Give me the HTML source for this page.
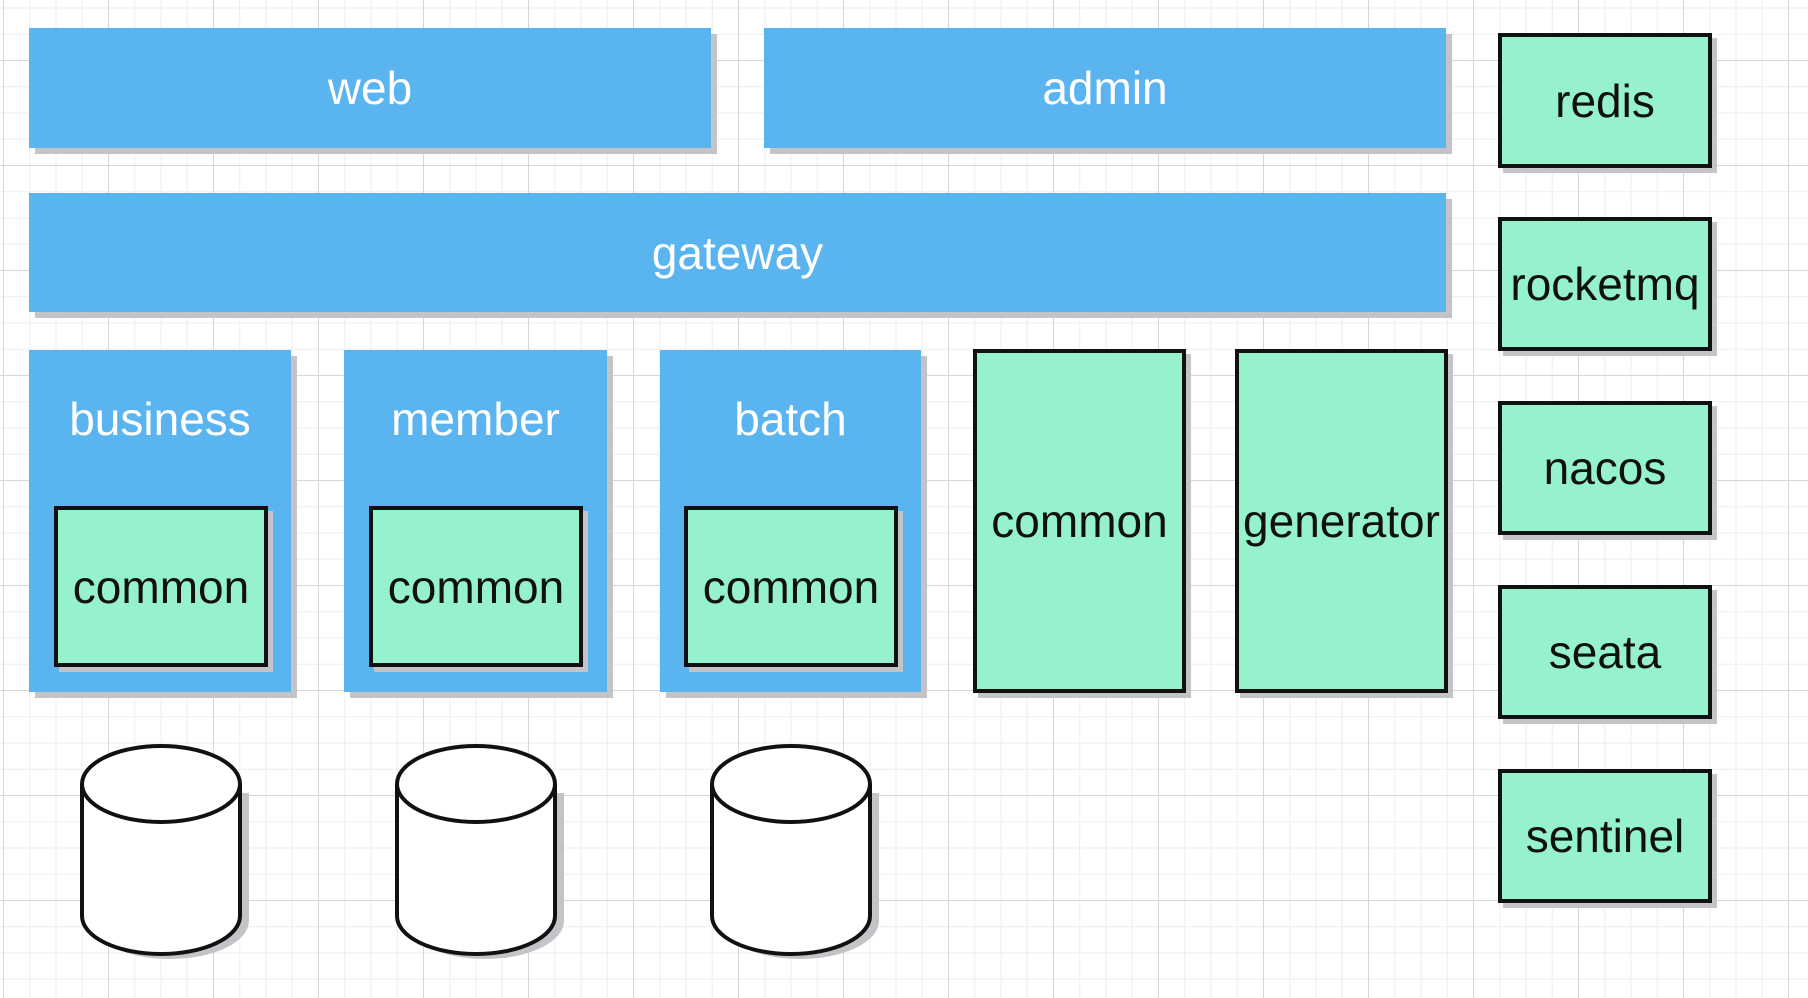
<!DOCTYPE html>
<html><head><style>
body{margin:0;width:1808px;height:998px;overflow:hidden;background:#fff;font-family:"Liberation Sans",sans-serif;}
#g{position:absolute;left:0;top:0;width:1808px;height:998px;
background-image:linear-gradient(#d6d6d6 1px,transparent 1px),linear-gradient(90deg,#d6d6d6 1px,transparent 1px),linear-gradient(#eeeeee 1px,transparent 1px),linear-gradient(90deg,#eeeeee 1px,transparent 1px);
background-size:105px 105px,105px 105px,26.25px 26.25px,26.25px 26.25px;background-position:3px 60px,3px 60px,3px 60px,3px 60px;}
.b{position:absolute;background:#5ab4ef;color:#fff;font-size:46px;display:flex;align-items:center;justify-content:center;box-shadow:6px 6px 0 #c4c4c8;}
.t{align-items:flex-start;padding-top:42px;box-sizing:border-box;}
.c{position:absolute;background:#96f2cd;border:4px solid #111;box-sizing:border-box;color:#111;font-size:46px;display:flex;align-items:center;justify-content:center;box-shadow:5px 5px 0 #c4c4c8;}
svg{position:absolute;left:0;top:0}
</style></head><body>
<div id="g"></div>
<div class="b" style="left:29px;top:28px;width:682px;height:120px">web</div>
<div class="b" style="left:764px;top:28px;width:682px;height:120px">admin</div>
<div class="b" style="left:29px;top:193px;width:1417px;height:119px">gateway</div>
<div class="b t" style="left:29px;top:350px;width:262px;height:342px">business</div>
<div class="b t" style="left:344px;top:350px;width:263px;height:342px">member</div>
<div class="b t" style="left:660px;top:350px;width:261px;height:342px">batch</div>
<div class="c" style="left:54px;top:506px;width:214px;height:161px">common</div>
<div class="c" style="left:369px;top:506px;width:214px;height:161px">common</div>
<div class="c" style="left:684px;top:506px;width:214px;height:161px">common</div>
<div class="c" style="left:973px;top:349px;width:213px;height:344px">common</div>
<div class="c" style="left:1235px;top:349px;width:213px;height:344px">generator</div>
<div class="c" style="left:1498px;top:33px;width:214px;height:135px">redis</div>
<div class="c" style="left:1498px;top:217px;width:214px;height:134px">rocketmq</div>
<div class="c" style="left:1498px;top:401px;width:214px;height:134px">nacos</div>
<div class="c" style="left:1498px;top:585px;width:214px;height:134px">seata</div>
<div class="c" style="left:1498px;top:769px;width:214px;height:134px">sentinel</div>
<svg width="1808" height="998">
<defs><g id="cy">
<path d="M6 44 L6 172 A79 38 0 0 0 164 172 L164 44" fill="#c4c4c8" transform="translate(5,5)"/>
<path d="M2 40 L2 172 A79 38 0 0 0 160 172 L160 40 A79 38 0 0 0 2 40 Z" fill="#fff" stroke="#111" stroke-width="4"/>
<path d="M2 40 A79 38 0 0 0 160 40" fill="none" stroke="#111" stroke-width="4"/>
</g></defs>
<use href="#cy" x="80" y="744"/>
<use href="#cy" x="395" y="744"/>
<use href="#cy" x="710" y="744"/>
</svg>
</body></html>
